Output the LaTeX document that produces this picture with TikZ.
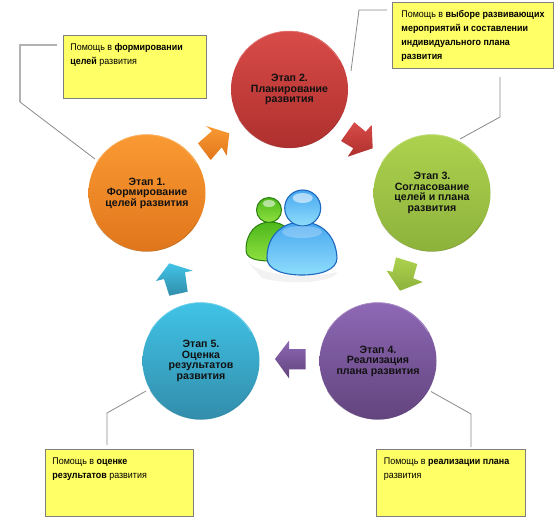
\documentclass[tikz,border=0pt]{standalone}
\usepackage{fontspec}
\setmainfont{Liberation Sans}
\newfontfamily\notefont[FakeStretch=0.92]{Liberation Sans}
\definecolor{leadgray}{HTML}{8A8A8A}
\definecolor{boxedge}{HTML}{7F7F7F}
\definecolor{boxfill}{HTML}{FFFF66}
\definecolor{txt}{HTML}{111111}
\definecolor{otop}{HTML}{FA9A33}\definecolor{obot}{HTML}{E0761C}
\definecolor{rtop}{HTML}{D84B48}\definecolor{rbot}{HTML}{AE302E}
\definecolor{gtop}{HTML}{ADD24F}\definecolor{gbot}{HTML}{8DB23B}
\definecolor{ptop}{HTML}{8E68B5}\definecolor{pbot}{HTML}{62447D}
\definecolor{btop}{HTML}{40C3E6}\definecolor{bbot}{HTML}{338DAB}
\definecolor{bluerim}{HTML}{1C68BE}\definecolor{bluedark}{HTML}{46A6F0}\definecolor{bluepale}{HTML}{8FDDFB}
\definecolor{greenrim}{HTML}{2A8010}\definecolor{greendark}{HTML}{4DB81A}\definecolor{greenpale}{HTML}{8FE040}
\tikzset{
  stage/.style={circle,minimum size=117pt,inner sep=0pt,align=center,
    font=\bfseries\fontsize{10.6}{10.6}\selectfont,text=txt,
    execute at begin node={\rule{0pt}{12pt}}},
  note/.style={draw=boxedge,line width=0.9pt,fill=boxfill,anchor=north west,inner xsep=7.5pt,inner ysep=4.5pt,
    font=\notefont\fontsize{9.7}{14}\selectfont,text=black},
  leader/.style={draw=leadgray,line width=0.8pt},
  leaderlight/.style={draw=black!30,line width=1.2pt},
  blockarrow/.style={line join=round},
}
\newcommand{\notetext}[3]{\parbox[c][#2pt][t]{#1pt}{\vspace*{3.5pt}\lineskip=0pt\baselineskip=14pt #3\nointerlineskip\hbox to #1pt{}}}
\newcommand{\nl}[1]{\hbox to 0pt{#1\hss}}
\begin{document}
\begin{tikzpicture}[x=1pt,y=-1pt]
\useasboundingbox[fill=white] (0,0) rectangle (560,523);

% stages
\node[stage,shade,top color=otop,bottom color=obot] (s1) at (147,193) {Этап 1.\\Формирование\\целей развития};
\node[stage,shade,top color=rtop,bottom color=rbot] (s2) at (289.5,89.5) {Этап 2.\\Планирование\\развития};
\node[stage,shade,top color=gtop,bottom color=gbot] (s3) at (432,193) {Этап 3.\\Согласование\\целей и плана\\развития};
\node[stage,shade,top color=ptop,bottom color=pbot] (s4) at (378,361) {Этап 4.\\Реализация\\плана развития};
\node[stage,shade,top color=btop,bottom color=bbot] (s5) at (201,361) {Этап 5.\\Оценка\\результатов\\развития};
\foreach \n/\c in {s1/otop,s2/rtop,s3/gtop,s4/ptop,s5/btop}{
  \draw[\c!75!white,line width=0.7pt] (\n.150) arc[start angle=150,end angle=30,radius=58pt];
  \draw[\c!70!black,line width=0.6pt,opacity=.6] (\n.210) arc[start angle=210,end angle=330,radius=58pt];
}

% notes
\node[note] (n1) at (62.5,35) {\notetext{128}{54}{\nl{Помощь в \textbf{формировании}}\nl{\textbf{целей} развития}}};
\node[note,inner xsep=9pt] (n2) at (392,1.5) {\notetext{143}{57}{\nl{Помощь в \textbf{выборе развивающих}}\nl{\textbf{мероприятий и составлении}}\nl{\textbf{индивидуального плана}}\nl{\textbf{развития}}}};
\node[note] (n5) at (44.5,449) {\notetext{133}{58}{\nl{Помощь в \textbf{оценке}}\nl{\textbf{результатов} развития}}};
\node[note] (n4) at (376,449) {\notetext{134}{58}{\nl{Помощь в \textbf{реализации плана}}\nl{развития}}};

% leaders
\coordinate (a1) at (57,45); \coordinate (b1) at (20,45); \coordinate (c1) at (20,102); \coordinate (d1) at (95,159);
\draw[leaderlight] (a1) -- (b1) -- (c1);
\draw[leader] (c1) -- (d1);
\coordinate (a2) at (387,10); \coordinate (b2) at (359,10); \coordinate (d2) at (351,71);
\draw[leader] (a2) -- (b2) -- (d2);
\coordinate (a3) at (500,77); \coordinate (b3) at (500,117); \coordinate (d3) at (460,139);
\draw[leader] (a3) -- (b3) -- (d3);
\coordinate (a5) at (107,445); \coordinate (b5) at (107,413); \coordinate (d5) at (146,391);
\draw[leader] (a5) -- (b5) -- (d5);
\coordinate (a4) at (471,447); \coordinate (b4) at (471,414); \coordinate (d4) at (431,391.5);
\draw[leader] (a4) -- (b4) -- (d4);

% block arrows
\shade[blockarrow,top color=otop,bottom color=obot]
  (206,126) -- (229.3,133.3) -- (226.7,155.7) -- (221.7,147.3) -- (210.7,160) -- (198,143.3) -- (212,131) -- cycle;
\shade[blockarrow,top color=rtop,bottom color=rbot]
  (354.3,122.3) -- (365.7,131.7) -- (371.7,125) -- (372.7,148.3) -- (347.7,156.7) -- (353.3,148.3) -- (341,141) -- cycle;
\shade[blockarrow,top color=gtop,bottom color=gbot]
  (396,257.3) -- (417.3,264) -- (413.3,278.3) -- (422.7,282) -- (400,290.7) -- (386.7,270.7) -- (392.7,271.7) -- cycle;
\shade[blockarrow,top color=ptop,bottom color=pbot]
  (275,359) -- (289,340.7) -- (289,349) -- (305.7,349) -- (305.7,369.3) -- (289,369.3) -- (289,378.3) -- cycle;
\shade[blockarrow,top color=btop,bottom color=bbot]
  (169.3,263.3) -- (192.7,270.7) -- (185,272.3) -- (187.7,291.7) -- (169.3,295.7) -- (164,279) -- (156,281) -- cycle;

% people icon: faint reflection
\fill[black!5] (248,262) .. controls (262,275) and (300,280) .. (337,272) .. controls (336,282) and (290,286) .. (262,278) -- cycle;
% green person
\shade[top color=greendark,bottom color=greenpale,draw=greenrim,line width=1pt]
  (246,250) .. controls (246,233) and (256,222) .. (270,222) .. controls (285,222) and (295,232) .. (295,250)
  .. controls (295,258) and (285,261) .. (270,261) .. controls (255,261) and (246,258) .. (246,250) -- cycle;
\shade[top color=greendark,bottom color=greenpale,draw=greenrim,line width=1pt] (269,210) circle[radius=12.5];
\fill[white,opacity=.55] (269,203.5) ellipse[x radius=6.5,y radius=3.5];
% blue person
\shade[top color=bluedark,bottom color=bluepale,draw=bluerim,line width=1.1pt]
  (267,258) .. controls (267,235) and (283,222) .. (302,222) .. controls (321,222) and (336,235) .. (337,258)
  .. controls (337,270) and (320,275) .. (302,275) .. controls (284,275) and (267,270) .. (267,258) -- cycle;
\shade[top color=bluedark,bottom color=bluepale,draw=bluerim,line width=1.1pt] (302.7,208) circle[radius=18];
\fill[white,opacity=.55] (302.7,198) ellipse[x radius=10,y radius=5];
\fill[white,opacity=.25] (302,232) ellipse[x radius=20,y radius=6];
\end{tikzpicture}
\end{document}
